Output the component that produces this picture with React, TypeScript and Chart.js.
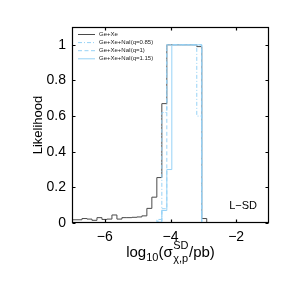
import React, { useEffect, useRef } from "react";
import { Chart, registerables } from "chart.js";
Chart.register(...registerables);

// Histogram bin edges (log10 sigma / pb)
const binEdges = [
  -7.0, -6.848, -6.696, -6.544, -6.392, -6.24, -6.088, -5.936, -5.784, -5.632,
  -5.48, -5.328, -5.176, -5.024, -4.872, -4.72, -4.568, -4.416, -4.264, -4.112,
  -3.96, -3.808, -3.656, -3.504, -3.352, -3.2, -3.048, -2.896, -2.744,
];
const geXe = [
  0.018, 0.018, 0.025, 0.022, 0.015, 0.03, 0.02, 0.022, 0.045, 0.022,
  0.03, 0.03, 0.032, 0.034, 0.04, 0.082, 0.145, 0.255, 0.67, 1,
  1, 1, 1, 1, 1, 0.99, 0.025, 0,
];
const q085 = [
  0, 0, 0, 0, 0, 0, 0, 0, 0, 0,
  0, 0, 0, 0, 0, 0, 0, 0.02, 0.62, 1,
  1, 1, 1, 1, 1, 0.6, 0, 0,
];
const q1 = [
  0, 0, 0, 0, 0, 0, 0, 0, 0, 0,
  0, 0, 0, 0, 0, 0, 0, 0.01, 0.08, 1,
  1, 1, 1, 1, 1, 1, 0, 0,
];
const q115 = [
  0, 0, 0, 0, 0, 0, 0, 0, 0, 0,
  0, 0, 0, 0, 0, 0, 0, 0.005, 0.07, 0.3,
  1, 1, 1, 1, 1, 1, 0, 0,
];
const seriesLabels = ["Ge+Xe", "Ge+Xe+NaI(q=0.85)", "Ge+Xe+NaI(q=1)", "Ge+Xe+NaI(q=1.15)"];
const xTicks = [-6, -4, -2];
const yTicks = [0, 0.2, 0.4, 0.6, 0.8, 1];
const panelLabel = "L\u2212SD";

const FONT = "'Liberation Sans', Arial, Helvetica, sans-serif";
const GRAY = "#4a4a4a";
const BLUE = "#97d2f6";

const styles = [
  { color: GRAY, dash: [] as number[] },
  { color: BLUE, dash: [4, 2, 1, 2] },
  { color: BLUE, dash: [4, 2.5] },
  { color: BLUE, dash: [] as number[] },
];

function toSteps(values: number[]) {
  const pts = values.map((v, i) => ({ x: binEdges[i], y: v }));
  pts.push({ x: binEdges[values.length], y: values[values.length - 1] });
  return pts;
}

const decor = {
  id: "decor",
  afterDatasetsDraw(chart: any) {
    const { ctx, chartArea: a, scales } = chart;
    const x = scales.x;
    const y = scales.y;
    ctx.save();
    // frame
    ctx.strokeStyle = "#000";
    ctx.lineWidth = 1.2;
    ctx.setLineDash([]);
    const L = Math.round(a.left) + 0.5;
    const R = Math.round(a.right) - 0.5;
    const T = Math.round(a.top) + 0.5;
    const B = Math.round(a.bottom) - 0.5;
    ctx.strokeRect(L, T, R - L, B - T);
    const tl = 3;
    ctx.beginPath();
    xTicks.forEach((v) => {
      const px = Math.round(x.getPixelForValue(v)) + 0.5;
      ctx.moveTo(px, B);
      ctx.lineTo(px, B - tl);
      ctx.moveTo(px, T);
      ctx.lineTo(px, T + tl);
    });
    yTicks.forEach((v) => {
      const py = Math.round(y.getPixelForValue(v)) + 0.5;
      ctx.moveTo(L, py);
      ctx.lineTo(L + tl, py);
      ctx.moveTo(R, py);
      ctx.lineTo(R - tl, py);
    });
    ctx.stroke();

    // legend
    ctx.lineWidth = 1;
    ctx.font = `6px ${FONT}`;
    ctx.textBaseline = "middle";
    ctx.textAlign = "left";
    seriesLabels.forEach((lab, i) => {
      const ly = 34.5 + i * 8.1;
      ctx.strokeStyle = styles[i].color;
      ctx.setLineDash(styles[i].dash);
      ctx.beginPath();
      ctx.moveTo(78, ly);
      ctx.lineTo(95, ly);
      ctx.stroke();
      ctx.fillStyle = "#222";
      ctx.fillText(lab, 99, ly);
    });
    ctx.setLineDash([]);

    // panel label
    ctx.fillStyle = "#000";
    ctx.font = `11px ${FONT}`;
    ctx.textAlign = "right";
    ctx.textBaseline = "alphabetic";
    ctx.fillText(panelLabel, 257, 209);

    // y title
    ctx.save();
    ctx.translate(38, (a.top + a.bottom) / 2);
    ctx.rotate(-Math.PI / 2);
    ctx.textAlign = "center";
    ctx.textBaseline = "middle";
    ctx.font = `13px ${FONT}`;
    ctx.fillText("Likelihood", 0, 0);
    ctx.restore();

    // x title with sub/superscripts
    const big = `15px ${FONT}`;
    const small = `11px ${FONT}`;
    const base = 257;
    ctx.textAlign = "left";
    ctx.textBaseline = "alphabetic";
    const w = (t: string, f: string) => {
      ctx.font = f;
      return ctx.measureText(t).width;
    };
    const wLog = w("log", big);
    const w10 = w("10", small);
    const wPar = w("(\u03c3", big);
    const wSD = w("SD", small);
    const wChi = w("\u03c7,p", small);
    const wStack = Math.max(wSD, wChi);
    const wEnd = w("/pb)", big);
    const total = wLog + w10 + wPar + wStack + wEnd + 1;
    let cx = (a.left + a.right) / 2 - total / 2;
    ctx.font = big;
    ctx.fillText("log", cx, base);
    cx += wLog;
    ctx.font = small;
    ctx.fillText("10", cx, base + 4);
    cx += w10;
    ctx.font = big;
    ctx.fillText("(\u03c3", cx, base);
    cx += wPar + 0.5;
    ctx.font = small;
    ctx.fillText("SD", cx, base - 8);
    ctx.fillText("\u03c7,p", cx, base + 5);
    cx += wStack + 0.5;
    ctx.font = big;
    ctx.fillText("/pb)", cx, base);
    ctx.restore();
  },
};

export default function App() {
  const ref = useRef<HTMLCanvasElement | null>(null);
  useEffect(() => {
    if (!ref.current) return;
    const datasets = [geXe, q085, q1, q115].map((vals, i) => ({
      label: seriesLabels[i],
      data: toSteps(vals),
      borderColor: styles[i].color,
      borderDash: styles[i].dash,
      borderWidth: 1,
      stepped: "before" as const,
      pointRadius: 0,
      fill: false,
      order: 4 - i,
    }));
    const chart = new Chart(ref.current, {
      type: "line",
      data: { datasets },
      options: {
        animation: false,
        responsive: false,
        maintainAspectRatio: false,
        layout: { padding: { top: 27, right: 27, left: 0, bottom: 0 } },
        plugins: { legend: { display: false }, tooltip: { enabled: false } },
        scales: {
          x: {
            type: "linear",
            min: -7,
            max: -1,
            afterFit: (s: any) => {
              s.height = 73;
            },
            afterBuildTicks: (s: any) => {
              s.ticks = xTicks.map((v) => ({ value: v }));
            },
            grid: { display: false, drawTicks: false },
            border: { display: false },
            ticks: {
              color: "#000",
              font: { family: FONT, size: 14 },
              padding: 6,
              maxRotation: 0,
              autoSkip: false,
              callback: (v: any) => String(v).replace("-", "\u2212"),
            },
          },
          y: {
            min: 0,
            max: 1.1,
            afterFit: (s: any) => {
              s.width = 72;
            },
            afterBuildTicks: (s: any) => {
              s.ticks = yTicks.map((v) => ({ value: v }));
            },
            grid: { display: false, drawTicks: false },
            border: { display: false },
            ticks: {
              color: "#000",
              font: { family: FONT, size: 14 },
              padding: 6,
              autoSkip: false,
              callback: (v: any) => String(Math.round(v * 10) / 10),
            },
          },
        },
      },
      plugins: [decor],
    });
    return () => chart.destroy();
  }, []);
  return (
    <div style={{ position: "fixed", left: 0, top: 0, width: 296, height: 296, background: "#fff" }}>
      <canvas ref={ref} width={296} height={296} />
    </div>
  );
}
